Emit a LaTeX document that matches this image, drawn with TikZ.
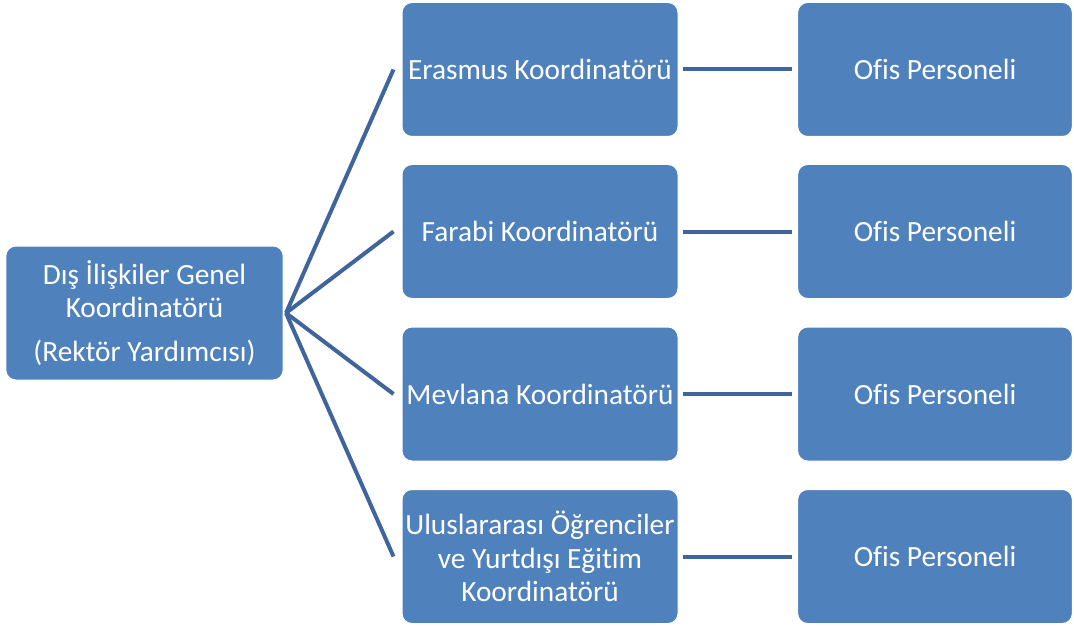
\documentclass[tikz,border=0pt]{standalone}
\usepackage{fontspec}
\setmainfont{Carlito}[Ligatures={NoCommon}]
\definecolor{boxblue}{RGB}{79,129,189}
\definecolor{lineblue}{RGB}{63,101,156}
\begin{document}
\begin{tikzpicture}[x=0.75pt,y=-0.75pt,
  box/.style={draw=white,line width=0.75pt,fill=boxblue,rounded corners=7.5pt,
    minimum width=207pt,minimum height=100.5pt,text=white,font=\fontsize{22}{25}\selectfont,
    align=center,inner sep=1pt},
  conn/.style={draw=lineblue,line width=3pt}]
\useasboundingbox (0,0) rectangle (1074,631);
\node[box,minimum width=208pt] (L) at (144.5,313) {Dış İlişkiler Genel\\Koordinatörü\\[8pt](Rektör Yardımcısı)};
\node[box] (m1) at (540,69.5) {Erasmus Koordinatörü};
\node[box] (m2) at (540,231.5) {Farabi Koordinatörü};
\node[box] (m3) at (540,394) {Mevlana Koordinatörü};
\node[box] (m4) at (540,556.5) {Uluslararası Öğrenciler\\ve Yurtdışı Eğitim\\Koordinatörü};
\node[box,minimum width=206pt] (r1) at (935,69.5) {Ofis Personeli};
\node[box,minimum width=206pt] (r2) at (935,231.5) {Ofis Personeli};
\node[box,minimum width=206pt] (r3) at (935,394) {Ofis Personeli};
\node[box,minimum width=206pt] (r4) at (935,556.5) {Ofis Personeli};
\coordinate (apex) at (286,313);
\foreach \i in {1,...,4}{
  \draw[conn] (apex) -- ([xshift=-6pt]m\i.west);
  \draw[conn] ([xshift=3pt]m\i.east) -- ([xshift=-4pt]r\i.west);
}
\end{tikzpicture}
\end{document}
